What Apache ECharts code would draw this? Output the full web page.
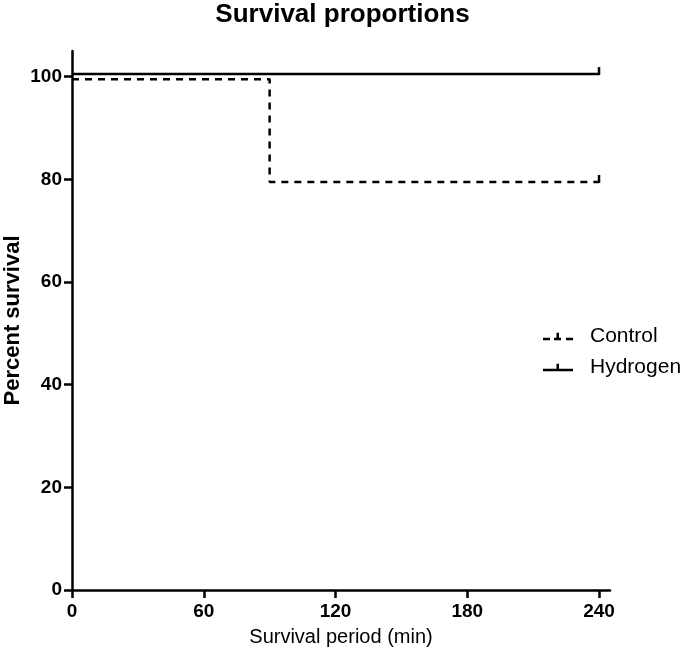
<!DOCTYPE html>
<html>
<head>
<meta charset="utf-8">
<script src="https://cdn.jsdelivr.net/npm/echarts@6/dist/echarts.min.js"></script>
<style>
html,body{margin:0;padding:0;background:#fff;}
#chart{width:685px;height:654px;}
</style>
</head>
<body>
<div id="chart"></div>
<script>
// Kaplan-Meier steps: [time (min), percent survival]
const seriesNames = ['Control', 'Hydrogen'];
const controlSteps = [[0, 100], [90, 80], [240, 80]];
const hydrogenSteps = [[0, 100], [240, 100]];
// small display offsets (GraphPad-style) so overlapping curves stay visible
const displayOffset = [-0.5, 0.5];
const xTicks = [0, 60, 120, 180, 240];
const yTicks = [0, 20, 40, 60, 80, 100];

const FONT = '"Liberation Sans", Arial, sans-serif';

function toData(steps, off) {
  return steps.map((p, i) => {
    const item = { value: [p[0], p[1] + off] };
    if (i === steps.length - 1) {
      item.symbol = 'rect';
      item.symbolSize = [2.5, 8];
      item.symbolOffset = [0, -3];
    }
    return item;
  });
}

const chart = echarts.init(document.getElementById('chart'), null, { renderer: 'canvas' });
chart.setOption({
  animation: false,
  backgroundColor: '#fff',
  title: {
    text: 'Survival proportions',
    left: 'center',
    top: 2,
    padding: 0,
    textStyle: { fontFamily: FONT, fontSize: 26, fontWeight: 'bold', color: '#000' }
  },
  legend: {
    orient: 'vertical',
    left: 543,
    top: 326,
    padding: 0,
    itemWidth: 30,
    itemHeight: 10,
    itemGap: 10,
    textStyle: { fontFamily: FONT, fontSize: 21, color: '#000', padding: [0, 0, 0, 12] },
    data: [
      { name: seriesNames[0], icon: 'path://M0,8h7v2.5h-7z M11,8h7v2.5h-7z M13.5,3h2.5v5h-2.5z M23,8h7v2.5h-7z' },
      { name: seriesNames[1], icon: 'path://M0,8h30v2.5h-30z M13.5,3h2.5v5h-2.5z' }
    ]
  },
  grid: { left: 72, right: 75, top: 51, bottom: 64, containLabel: false, outerBoundsMode: 'none' },
  xAxis: {
    type: 'value',
    min: 0,
    max: 245,
    name: 'Survival period (min)',
    nameLocation: 'middle',
    nameGap: 37,
    nameMoveOverlap: false,
    nameTextStyle: { fontFamily: FONT, fontSize: 20, color: '#000' },
    axisLine: { show: true, onZero: false, lineStyle: { color: '#000', width: 2.5 } },
    axisTick: { show: true, length: 8, lineStyle: { color: '#000', width: 2.5 }, customValues: xTicks },
    axisLabel: { fontFamily: FONT, fontSize: 19, fontWeight: 'bold', color: '#000', margin: 12, customValues: xTicks },
    splitLine: { show: false }
  },
  yAxis: {
    type: 'value',
    min: 0,
    max: 105,
    name: 'Percent survival',
    nameLocation: 'middle',
    nameGap: 48,
    nameMoveOverlap: false,
    nameTextStyle: { fontFamily: FONT, fontSize: 22, fontWeight: 'bold', color: '#000' },
    axisLine: { show: true, onZero: false, lineStyle: { color: '#000', width: 2.5 } },
    axisTick: { show: true, length: 8, lineStyle: { color: '#000', width: 2.5 }, customValues: yTicks },
    axisLabel: { fontFamily: FONT, fontSize: 19, fontWeight: 'bold', color: '#000', margin: 10, customValues: yTicks },
    splitLine: { show: false }
  },
  series: [
    {
      name: seriesNames[0],
      type: 'line',
      step: 'end',
      symbol: 'none',
      showSymbol: true,
      color: '#000',
      lineStyle: { color: '#000', width: 2.5, type: [7, 6] },
      itemStyle: { color: '#000' },
      data: toData(controlSteps, displayOffset[0]),
      z: 3
    },
    {
      name: seriesNames[1],
      type: 'line',
      step: 'end',
      symbol: 'none',
      showSymbol: true,
      color: '#000',
      lineStyle: { color: '#000', width: 2.5 },
      itemStyle: { color: '#000' },
      data: toData(hydrogenSteps, displayOffset[1]),
      z: 4
    }
  ]
});
</script>
</body>
</html>
